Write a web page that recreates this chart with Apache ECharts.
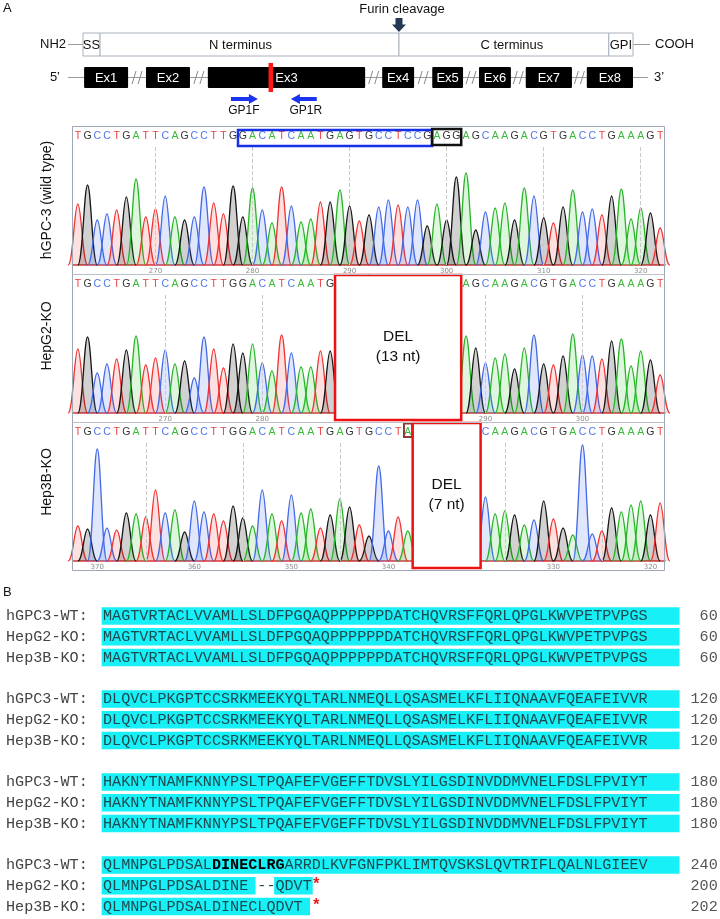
<!DOCTYPE html>
<html><head><meta charset="utf-8">
<script src="https://cdn.jsdelivr.net/npm/echarts@6/dist/echarts.min.js"></script>
<style>html,body{margin:0;padding:0;background:#fff}#c{width:720px;height:919px}</style>
</head><body><div id="c"></div>
<script>
// ================= DATA =================
// Panel A schematic, relative units (0-100) along protein / gene
const domainNames = ['SS', 'N terminus', 'C terminus', 'GPI'];
const domainStart = [0, 3.1, 57.45, 95.6];
const domainEnd   = [3.1, 57.45, 95.6, 100];
const furinSite = 57.45;
const exonNames = ['Ex1', 'Ex2', 'Ex3', 'Ex4', 'Ex5', 'Ex6', 'Ex7', 'Ex8'];
const exonStart = [0.2, 11.45, 22.7, 54.4, 63.5, 72.0, 80.5, 91.6];
const exonEnd   = [8.2, 19.45, 51.3, 60.2, 69.1, 77.8, 88.9, 100];
const cutSite = 34.1;
const primerNames = ['GP1F', 'GP1R'];
const primerStart = [26.9, 37.8];
const primerEnd   = [31.8, 42.5];
const primerDir   = [1, -1];

// Chromatograms (base calls; '-' = deleted)
const panelNames = ['hGPC-3 (wild type)', 'HepG2-KO', 'Hep3B-KO'];
const seqWT    = 'TGCCTGATTCAGCCTTGGACATCAATGAGTGCCTCCGAGGAGCAAGACGTGACCTGAAAGT';
const seqHepG2 = 'TGCCTGATTCAGCCTTGGACATCAATG-------------AGCAAGACGTGACCTGAAAGT';
const seqHep3B = 'TGCCTGATTCAGCCTTGGACATCAATGAGTGCCTA-------CAAGACGTGACCTGAAAGT';
// peak heights (signal, arbitrary units)
const hWT = [61,80,45,51,55,68,86,48,56,69,48,45,48,78,62,51,79,48,77,55,42,78,59,43,46,63,63,75,59,44,
             50,58,65,60,58,65,39,61,45,88,92,35,53,57,62,45,77,69,47,42,58,75,53,56,50,69,76,46,57,52,37];
const hHepG2 = [64,76,40,49,54,63,77,48,55,63,49,52,35,76,64,45,69,60,69,50,42,78,60,46,46,62,62,
             null,null,null,null,null,null,null,null,null,null,null,null,null,
             77,65,50,55,59,44,65,78,49,48,57,79,58,57,54,72,74,47,62,53,38];
const hHep3B = [35,32,112,33,31,48,47,44,71,48,51,29,60,49,47,40,55,43,35,71,47,40,66,48,52,33,46,62,54,36,
             25,95,30,44,30,null,null,null,null,null,null,null,
             64,47,50,46,36,41,60,42,33,26,116,27,30,53,49,56,60,46,58];
const tickIdx = [[8,18,28,38,48,58], [9,19,42,52], [2,12,22,32,49,59]];
const tickLabels = [['270','280','290','300','310','320'], ['270','280','290','300'], ['370','360','350','340','330','320']];
const gridIdx = [[8,18,28,38,48,58], [9,19,42,52], [7,17,27,44,54]];
const sgRNARange = [17, 36];
const pamRange = [37, 39];
const delHepG2 = [27, 39];
const delHep3B = [35, 41];
const markHep3B = 34;

// Panel B alignment
const alnLabels = ['hGPC3-WT:', 'HepG2-KO:', 'Hep3B-KO:'];
const alnWT = [
  'MAGTVRTACLVVAMLLSLDFPGQAQPPPPPPDATCHQVRSFFQRLQPGLKWVPETPVPGS',
  'DLQVCLPKGPTCCSRKMEEKYQLTARLNMEQLLQSASMELKFLIIQNAAVFQEAFEIVVR',
  'HAKNYTNAMFKNNYPSLTPQAFEFVGEFFTDVSLYILGSDINVDDMVNELFDSLFPVIYT',
  'QLMNPGLPDSALDINECLRGARRDLKVFGNFPKLIMTQVSKSLQVTRIFLQALNLGIEEV'];
const alnHepG2 = [
  'MAGTVRTACLVVAMLLSLDFPGQAQPPPPPPDATCHQVRSFFQRLQPGLKWVPETPVPGS',
  'DLQVCLPKGPTCCSRKMEEKYQLTARLNMEQLLQSASMELKFLIIQNAAVFQEAFEIVVR',
  'HAKNYTNAMFKNNYPSLTPQAFEFVGEFFTDVSLYILGSDINVDDMVNELFDSLFPVIYT',
  'QLMNPGLPDSALDINE --QDVT*'];
const alnHep3B = [
  'MAGTVRTACLVVAMLLSLDFPGQAQPPPPPPDATCHQVRSFFQRLQPGLKWVPETPVPGS',
  'DLQVCLPKGPTCCSRKMEEKYQLTARLNMEQLLQSASMELKFLIIQNAAVFQEAFEIVVR',
  'HAKNYTNAMFKNNYPSLTPQAFEFVGEFFTDVSLYILGSDINVDDMVNELFDSLFPVIYT',
  'QLMNPGLPDSALDINECLQDVT *'];
const alnEndWT = [60, 120, 180, 240];
const alnEndHepG2 = [60, 120, 180, 200];
const alnEndHep3B = [60, 120, 180, 202];
const sgMotif = 'DINECLRG';

// ================= RENDER =================
const SANS = '"Liberation Sans", Arial, sans-serif';
const MONO = '"Liberation Mono", "Courier New", monospace';
const BASES = 'ACGT';
const baseStroke = {A:'#27b527', C:'#4369e6', G:'#151515', T:'#f03232'};
const baseFill = {A:'rgba(60,200,60,0.17)', C:'rgba(70,110,235,0.17)', G:'rgba(0,0,0,0.18)', T:'rgba(240,50,50,0.15)'};
const letterColor = {A:'#3cba3c', C:'#5077ea', G:'#333333', T:'#ef4242'};
const CYAN = '#16f0f6';

function txt(x, y, s, font, fill, align, valign, extra) {
  return Object.assign({type:'text', x:x, y:y, style:{text:s, font:font, fill:fill, align:align||'center', verticalAlign:valign||'middle'}}, extra||{});
}
function ln(x1,y1,x2,y2,color,w,dash){
  return {type:'line', shape:{x1,y1,x2,y2}, style:{stroke:color, lineWidth:w||1, lineDash:dash||null}};
}

// --- Panel A renderers ---
function renderBackbone(params, api){
  const xa = api.coord([0,0])[0], xb = api.coord([100,0])[0];
  return {type:'group', children:[
    ln(xa-15, 44.5, xa, 44.5, '#9a9a9a', 1),
    txt(xa-17, 44.5, 'NH2', '13px '+SANS, '#111', 'right'),
    ln(xb, 44.5, xb+17, 44.5, '#9a9a9a', 1),
    txt(xb+22, 44.5, 'COOH', '13px '+SANS, '#111', 'left'),
    ln(xa-15, 77.5, xb+15, 77.5, '#9a9a9a', 1),
    txt(xa-23, 77.5, '5\u2019', '13px '+SANS, '#111', 'right'),
    txt(xb+21, 77.5, '3\u2019', '13px '+SANS, '#111', 'left')
  ]};
}
function renderDomain(params, api){
  const i = api.value(2);
  const x1 = api.coord([api.value(0),0])[0], x2 = api.coord([api.value(1),0])[0];
  const shift = (x2 - x1) > 250 ? -9 : ((x2 - x1) > 150 ? 8 : 0);
  return {type:'group', children:[
    {type:'rect', shape:{x:x1, y:33, width:x2-x1, height:23}, style:{fill:'#fff', stroke:'#a9b2be', lineWidth:1}},
    txt((x1+x2)/2 + shift, 45, domainNames[i], '13px '+SANS, '#111')
  ]};
}
function renderExon(params, api){
  const i = api.value(2);
  const x1 = api.coord([api.value(0),0])[0], x2 = api.coord([api.value(1),0])[0];
  const kids = [
    {type:'rect', shape:{x:x1, y:67, width:x2-x1, height:21, r:1}, style:{fill:'#000'}},
    txt((x1+x2)/2, 78, exonNames[i], '13px '+SANS, '#fff')
  ];
  if (i > 0) {
    const prevEnd = api.coord([exonEnd[i-1],0])[0];
    const m = (prevEnd + x1) / 2;
    kids.push(ln(m-5, 84, m-1, 71, '#8a8a8a', 1), ln(m+1, 84, m+5, 71, '#8a8a8a', 1));
  }
  return {type:'group', children:kids};
}
function renderCut(params, api){
  const x = api.coord([api.value(0),0])[0];
  return {type:'rect', shape:{x:x-2, y:63, width:4.5, height:29}, style:{fill:'#ff1616'}};
}
function renderPrimer(params, api){
  const i = api.value(2), d = primerDir[i];
  const x1 = api.coord([api.value(0),0])[0], x2 = api.coord([api.value(1),0])[0];
  const y = 99, hl = 9;
  let pts;
  if (d > 0) pts = [[x1,y-2],[x2-hl,y-2],[x2-hl,y-5],[x2,y],[x2-hl,y+5],[x2-hl,y+2],[x1,y+2]];
  else pts = [[x2,y-2],[x1+hl,y-2],[x1+hl,y-5],[x1,y],[x1+hl,y+5],[x1+hl,y+2],[x2,y+2]];
  return {type:'group', children:[
    {type:'polygon', shape:{points:pts}, style:{fill:'#1b34f2'}},
    txt((x1+x2)/2 + (d>0?-0.5:2), 111, primerNames[i], '12px '+SANS, '#111')
  ]};
}
function renderFurin(params, api){
  const x = api.coord([api.value(0),0])[0];
  return {type:'group', children:[
    txt(x+3, 9, 'Furin cleavage', '13px '+SANS, '#111'),
    {type:'polygon', shape:{points:[[x-3.5,18],[x+3.5,18],[x+3.5,24.5],[x+7,24.5],[x,32],[x-7,24.5],[x-3.5,24.5]]}, style:{fill:'#243754'}}
  ]};
}

// --- Chromatogram renderers ---
function peakData(seq, h){
  const d = [];
  for (let i = 0; i < seq.length; i++) if (seq[i] !== '-' && h[i] != null) d.push([i, h[i], BASES.indexOf(seq[i])]);
  return d;
}
function renderPeak(params, api){
  const i = api.value(0), h = api.value(1), b = BASES[api.value(2)];
  const p0 = api.coord([i,0]), p1 = api.coord([i,h]);
  const w = api.size([1,0])[0] * 1.0;
  const x = p0[0], y0 = p0[1], yt = p1[1];
  const curve = `M${x-w},${y0} C${x-0.5*w},${y0} ${x-0.36*w},${yt} ${x},${yt} C${x+0.36*w},${yt} ${x+0.5*w},${y0} ${x+w},${y0}`;
  return {type:'group', children:[
    {type:'path', shape:{pathData:curve+' Z'}, style:{fill:baseFill[b]}},
    {type:'path', shape:{pathData:curve}, style:{fill:null, stroke:baseStroke[b], lineWidth:1.3}}
  ]};
}
function renderLetter(params, api){
  const b = BASES[api.value(2)];
  const p = api.coord([api.value(0), 120]);
  return txt(p[0], p[1]-9, b, '10.5px '+SANS, letterColor[b]);
}
function renderBox(params, api){
  const s = api.value(0), e = api.value(1), kind = api.value(2);
  const xa = api.coord([s-0.5, 120]), xb = api.coord([e+0.5, 120]);
  const top = xa[1];
  const x1 = xa[0], x2 = xb[0];
  if (kind === 0) return {type:'rect', shape:{x:x1, y:top-15, width:x2-x1, height:16}, style:{fill:null, stroke:'#1530e6', lineWidth:2.5}};
  if (kind === 1) return {type:'rect', shape:{x:x1, y:top-16, width:x2-x1, height:16}, style:{fill:null, stroke:'#111', lineWidth:2.5}};
  if (kind === 3) return {type:'rect', shape:{x:x1+1, y:top-17.5, width:x2-x1-1.5, height:13.5}, style:{fill:null, stroke:'#8e3a3a', lineWidth:2}};
  const cy = top + 54;
  return {type:'group', children:[
    {type:'rect', shape:{x:x1, y:top-18, width:x2-x1, height:145}, style:{fill:'#fff', stroke:'#ee1111', lineWidth:2.5}},
    txt((x1+x2)/2, cy-10, 'DEL', '15.5px '+SANS, '#111'),
    txt((x1+x2)/2, cy+10, '(' + (e-s+1) + ' nt)', '15.5px '+SANS, '#111')
  ]};
}

// --- Alignment renderer ---
const alnSeqs = [alnWT, alnHepG2, alnHep3B];
const alnEnds = [alnEndWT, alnEndHepG2, alnEndHep3B];
const alnData = [];
for (let b = 0; b < 4; b++) for (let l = 0; l < 3; l++) alnData.push([0, 4*b + l, b, l]);
function renderAln(params, api){
  const blk = api.value(2), lnI = api.value(3);
  const seq = alnSeqs[lnI][blk];
  const p0 = api.coord([0, api.value(1)]);
  const cw = api.size([1,0])[0];
  const x0 = p0[0], y = p0[1];
  const kids = [];
  const FONT = '15.13px '+MONO;
  const isRes = ch => ch >= 'A' && ch <= 'Z';
  let c = 0;
  while (c < seq.length) {
    if (isRes(seq[c])) {
      const s = c; while (c < seq.length && isRes(seq[c])) c++;
      let e = c >= 60 ? 63.5 : (seq[c] === ' ' ? c + 0.8 : c + 0.1);
      kids.push({type:'rect', shape:{x:x0+(s-0.15)*cw, y:y-8.75, width:(e-s+0.15)*cw, height:17.5}, style:{fill:CYAN}});
    } else c++;
  }
  kids.push(txt(x0 - 10.68*cw, y, alnLabels[lnI], FONT, '#444', 'left'));
  const star = seq.indexOf('*');
  const body = star >= 0 ? seq.slice(0, star) : seq;
  const k = lnI === 0 ? body.indexOf(sgMotif) : -1;
  if (k >= 0) {
    kids.push(txt(x0, y, body.slice(0,k), FONT, '#1d4a51', 'left'));
    kids.push(txt(x0 + k*cw, y, sgMotif, 'bold '+FONT, '#000', 'left'));
    kids.push(txt(x0 + (k+sgMotif.length)*cw, y, body.slice(k+sgMotif.length), FONT, '#1d4a51', 'left'));
  } else {
    kids.push(txt(x0, y, body, FONT, '#1d4a51', 'left'));
  }
  if (star >= 0) kids.push(txt(x0 + (star+0.5)*cw, y-1, '*', 'bold 16px '+MONO, '#e51c1c', 'center'));
  kids.push(txt(x0 + 67.7*cw, y, String(alnEnds[lnI][blk]), FONT, '#555', 'right'));
  return {type:'group', children:kids};
}

// ================= OPTION =================
const seqs = [seqWT, seqHepG2, seqHep3B];
const heights = [hWT, hHepG2, hHep3B];
const boxData = [
  [[sgRNARange[0], sgRNARange[1], 0], [pamRange[0], pamRange[1], 1]],
  [[delHepG2[0], delHepG2[1], 2]],
  [[markHep3B, markHep3B, 3], [delHep3B[0], delHep3B[1], 2]]
];
const grids = [{left:83, top:30, width:550, height:60}];
const xAxes = [{gridIndex:0, type:'value', min:0, max:100, show:false}];
const yAxes = [{gridIndex:0, type:'value', min:0, max:1, show:false}];
const series = [
  {type:'custom', xAxisIndex:0, yAxisIndex:0, renderItem:renderBackbone, data:[[0,100]], z:1},
  {type:'custom', xAxisIndex:0, yAxisIndex:0, renderItem:renderDomain, data:domainNames.map((n,i)=>[domainStart[i], domainEnd[i], i]), z:2},
  {type:'custom', xAxisIndex:0, yAxisIndex:0, renderItem:renderExon, data:exonNames.map((n,i)=>[exonStart[i], exonEnd[i], i]), z:2},
  {type:'custom', xAxisIndex:0, yAxisIndex:0, renderItem:renderCut, data:[[cutSite]], z:3},
  {type:'custom', xAxisIndex:0, yAxisIndex:0, renderItem:renderPrimer, data:primerNames.map((n,i)=>[primerStart[i], primerEnd[i], i]), z:2},
  {type:'custom', xAxisIndex:0, yAxisIndex:0, renderItem:renderFurin, data:[[furinSite]], z:2}
];
const baselines = [265, 413, 561];
for (let p = 0; p < 3; p++) {
  const gi = p + 1;
  grids.push({left:73, width:592, top:baselines[p]-120, height:120});
  const labels = tickLabels[p], ticks = tickIdx[p];
  xAxes.push({gridIndex:gi, type:'value', min:-0.5, max:60.5,
    axisLine:{show:true, onZero:false, lineStyle:{color:'#cf3c3c', width:1.5}},
    axisTick:{show:false}, splitLine:{show:false},
    axisLabel:{show:true, customValues:ticks, formatter:(v)=>labels[ticks.indexOf(Math.round(v))] || '', fontSize:7, color:'#8c8c8c', margin:3, fontFamily:'DejaVu Sans'}});
  yAxes.push({gridIndex:gi, type:'value', min:0, max:120, show:false});
  const pd = peakData(seqs[p], heights[p]);
  series.push({type:'custom', xAxisIndex:gi, yAxisIndex:gi, renderItem:renderPeak, data:pd, z:2,
    markLine:{silent:true, symbol:['none','none'], label:{show:false}, lineStyle:{type:'dashed', color:'#c8c8c8', width:1}, data:gridIdx[p].map(v=>({xAxis:v}))}});
  series.push({type:'custom', xAxisIndex:gi, yAxisIndex:gi, renderItem:renderLetter, data:pd, z:3});
  series.push({type:'custom', xAxisIndex:gi, yAxisIndex:gi, renderItem:renderBox, data:boxData[p], z:6});
}
grids.push({left:103, top:616, width:67*9.08, height:290.5});
xAxes.push({gridIndex:4, type:'value', min:0, max:67, show:false});
yAxes.push({gridIndex:4, type:'value', min:0, max:14, inverse:true, show:false});
series.push({type:'custom', xAxisIndex:4, yAxisIndex:4, renderItem:renderAln, data:alnData, z:2});

const graphic = [
  {type:'text', x:3, y:8, style:{text:'A', font:'13px '+SANS, fill:'#111', align:'left', verticalAlign:'middle'}},
  {type:'text', x:3, y:592, style:{text:'B', font:'13px '+SANS, fill:'#111', align:'left', verticalAlign:'middle'}},
  {type:'rect', shape:{x:72.5, y:126.5, width:592, height:444}, style:{fill:null, stroke:'#9ea8b4', lineWidth:1}, z:10},
  {type:'line', shape:{x1:72.5, y1:274.5, x2:664.5, y2:274.5}, style:{stroke:'#b9c0c8', lineWidth:1}, z:10},
  {type:'line', shape:{x1:72.5, y1:422.5, x2:664.5, y2:422.5}, style:{stroke:'#b9c0c8', lineWidth:1}, z:10}
];
const labelY = [200, 336, 482];
panelNames.forEach((n, i) => graphic.push({type:'text', x:47, y:labelY[i], rotation:Math.PI/2,
  style:{text:n, font:'14px '+SANS, fill:'#111', align:'center', verticalAlign:'middle'}}));

const chart = echarts.init(document.getElementById('c'), null, {renderer:'canvas', width:720, height:919});
chart.setOption({animation:false, backgroundColor:'#fff', grid:grids, xAxis:xAxes, yAxis:yAxes, series:series, graphic:graphic});
</script></body></html>
